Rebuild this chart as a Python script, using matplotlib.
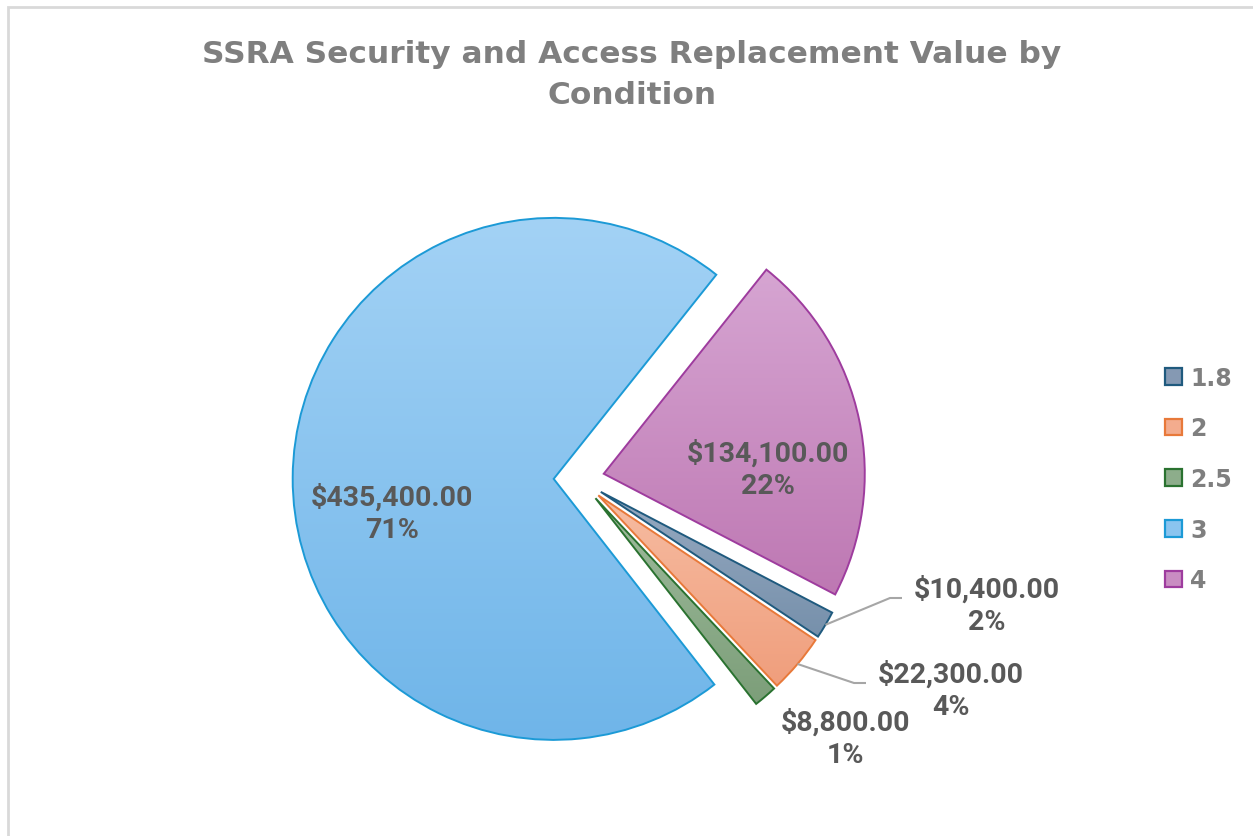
import numpy as np
import matplotlib
matplotlib.use("Agg")
from matplotlib import pyplot as plt
from matplotlib.colors import LinearSegmentedColormap
from matplotlib.patches import Rectangle

# replacement value by condition rating
conditions = ["1.8", "2", "2.5", "3", "4"]
values = [10400, 22300, 8800, 435400, 134100]

# fills run top -> bottom, plus an outline colour per slice
fill_top = ["#97AAC1", "#F6BCA2", "#A0BC9E", "#A3D2F5", "#D6A5D2"]
fill_bot = ["#7690AB", "#F09E7C", "#7C9E79", "#6FB5E9", "#BE78B3"]
edges = ["#1F5A7E", "#E8793A", "#2A7230", "#1C9AD6", "#9E3C9E"]
mid_fill = ["#8599B3", "#F3AC8E", "#8DAD8B", "#8AC4EF", "#C98DC2"]

W, H = 1253, 837
fig = plt.figure(figsize=(W / 100, H / 100), dpi=100)
ax = fig.add_axes([0, 0, 1, 1])

cx, cy, R = 579, H - 480, 261
total = sum(values)
# first slice starts where the "4" slice ends, running clockwise
start = 90 - 117.55

# pie() offsets exploded slices in data units, so scale by the radius
wedges, _ = ax.pie(values, explode=[0.097 * R] * 5, center=(cx, cy),
                   radius=R, startangle=start, counterclock=False,
                   colors=mid_fill,
                   wedgeprops=dict(edgecolor="none", linewidth=0))

leg = ax.legend(wedges, conditions, loc="center left",
                bbox_to_anchor=(1144 / W, 1 - 480 / H), frameon=False,
                prop=dict(family="DejaVu Sans", weight="bold", size=17),
                labelcolor="#7F7F7F", handlelength=0.7, handleheight=0.7,
                handletextpad=0.35, labelspacing=1.13)
for h, ec in zip(leg.legend_handles, edges):
    h.set_edgecolor(ec)
    h.set_linewidth(1.6)

# gradient fill clipped to each slice, outline drawn on top
grad = np.linspace(0, 1, 256).reshape(-1, 1)
for w, t, b, ec in zip(wedges, fill_top, fill_bot, edges):
    bb = w.get_path().get_extents(w.get_patch_transform())
    cmap = LinearSegmentedColormap.from_list("g", [t, b])
    im = ax.imshow(grad, cmap=cmap, extent=(bb.x0, bb.x1, bb.y0, bb.y1),
                   origin="upper", aspect="auto", interpolation="bilinear",
                   zorder=1)
    im.set_clip_path(w)
    w.set_facecolor("none")
    w.set_edgecolor(ec)
    w.set_linewidth(1.4)
    w.set_zorder(2)

# data labels: value and share
label_pos = [(987, 606), (951, 691), (845, 739), (392, 514), (768, 470)]
leader = [True, True, False, False, False]
lab_font = dict(family="Roboto", weight="bold", size=20.5, color="#595959")
for i, (v, w) in enumerate(zip(values, wedges)):
    x, y = label_pos[i]
    txt = f"${v:,.2f}\n{100 * v / total:.0f}%"
    ax.text(x, H - y, txt, ha="center", va="center", linespacing=1.25,
            zorder=5, **lab_font)
    if leader[i]:
        mid = np.radians((w.theta1 + w.theta2) / 2)
        x0 = w.center[0] + w.r * np.cos(mid)
        y0 = w.center[1] + w.r * np.sin(mid)
        ey = H - (y - 7)
        ax.plot([x0, x - 97, x - 85], [y0, ey, ey], color="#A6A6A6",
                lw=1.5, zorder=3, solid_capstyle="butt")

fig.text(632 / W, 1 - 75 / H,
         "SSRA Security and Access Replacement Value by\nCondition",
         ha="center", va="center", family="DejaVu Sans", weight="bold",
         size=22.5, color="#7F7F7F", linespacing=1.5)

# chart area border
ax.add_patch(Rectangle((8, -20), W + 20, H - 8 + 20, fill=False,
                       edgecolor="#D9D9D9", lw=2, zorder=0, clip_on=False))

ax.set_xlim(0, W)
ax.set_ylim(0, H)
ax.axis("off")

fig.savefig("out.png", dpi=100)
